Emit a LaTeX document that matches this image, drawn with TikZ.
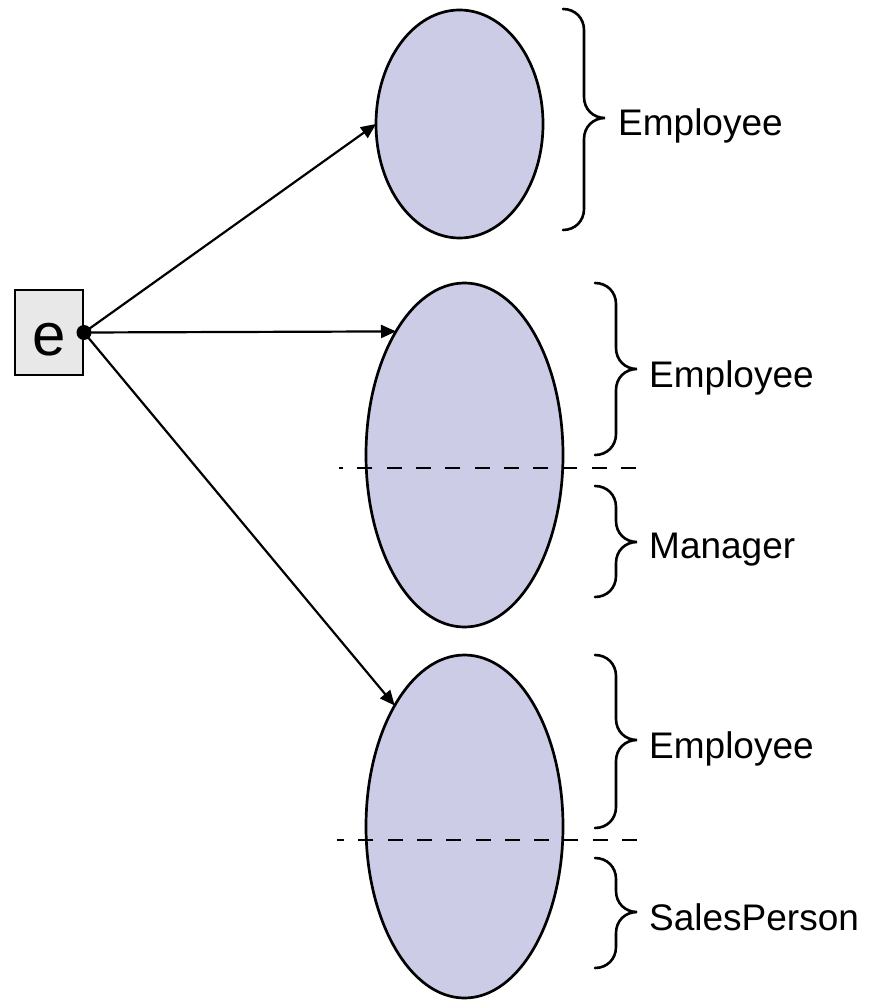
\documentclass[tikz,border=0pt]{standalone}
\usepackage{fontspec}
\setmainfont{Liberation Sans}
\usetikzlibrary{shapes.geometric,arrows.meta,calc}

\definecolor{setfill}{RGB}{204,204,230}
\definecolor{boxfill}{RGB}{232,232,232}

% right-hand curly brace: #1 tip name, #2 left x, #3 top y, #4 bottom y, #5 tip y
\newcommand{\curlybr}[5]{%
  \draw[bracepen] (#2,#3)
    .. controls ({#2+12},#3) and ({#2+21},{#3+9}) .. ({#2+21},{#3+21})
    -- ({#2+21},{#5-21})
    .. controls ({#2+21},{#5-9}) and ({#2+30},#5) .. ({#2+42},#5) coordinate (#1)
    .. controls ({#2+30},#5) and ({#2+21},{#5+9}) .. ({#2+21},{#5+21})
    -- ({#2+21},{#4-21})
    .. controls ({#2+21},{#4-9}) and ({#2+12},#4) .. (#2,#4);
}

\begin{document}
\begin{tikzpicture}[x=1pt,y=-1pt,
  setshape/.style={ellipse, draw, line width=2.7pt, fill=setfill, inner sep=0pt, outer sep=0pt},
  bracepen/.style={line width=2.6pt, line cap=round},
  divider/.style={line width=2.7pt, dash pattern=on 15pt off 14.3pt},
  ptr/.style={line width=2.2pt, -{Triangle[length=15pt,width=13pt]}},
  lbl/.style={font=\fontsize{37}{44}\selectfont, inner sep=0pt, anchor=base west},
  ebox/.style={draw, line width=2pt, fill=boxfill, minimum width=68pt, minimum height=85pt, inner sep=0pt},
  joint/.style={circle, fill, inner sep=0pt, minimum size=15pt},
]
\useasboundingbox (0,0) rectangle (871,1000);

% object sets
\node[setshape, minimum width=167pt, minimum height=228pt] (e1) at (459.5,124) {};
\node[setshape, minimum width=197pt, minimum height=344pt] (e2) at (464.5,455) {};
\node[setshape, minimum width=197pt, minimum height=343pt] (e3) at (464.5,826.5) {};

% dividing lines between the inherited parts
\draw[divider] (636,468) -- (339,468);
\draw[divider] (637,840) -- (337,840);

% reference variable
\node[ebox] (box) at (49,332.5) {};
\node[font=\fontsize{60}{70}\selectfont, inner sep=0pt, anchor=base] (etxt) at ([yshift=-23pt]box.center) {e};
\coordinate (dot) at (box.east);

% references
\draw[ptr] (dot) -- (e1.west);
\draw[ptr] (dot) -- (e2.119.6);
\draw[ptr] (dot) -- (e3.120.5);
\node[joint] (joint) at (dot) {};

% braces and labels
\curlybr{b1}{563}{9}{230}{118}
\curlybr{b2}{595}{283}{455}{369}
\curlybr{b3}{595}{486}{597}{542}
\curlybr{b4}{595}{655}{828}{740}
\curlybr{b5}{595}{858}{968}{912}

\node[lbl] (l1) at ($(b1)+(13,18)$) {Employee};
\node[lbl] (l2) at ($(b2)+(12,18)$) {Employee};
\node[lbl] (l3) at ($(b3)+(12,16)$) {Manager};
\node[lbl] (l4) at ($(b4)+(12,18)$) {Employee};
\node[lbl] (l5) at ($(b5)+(12,18)$) {SalesPerson};
\end{tikzpicture}
\end{document}
